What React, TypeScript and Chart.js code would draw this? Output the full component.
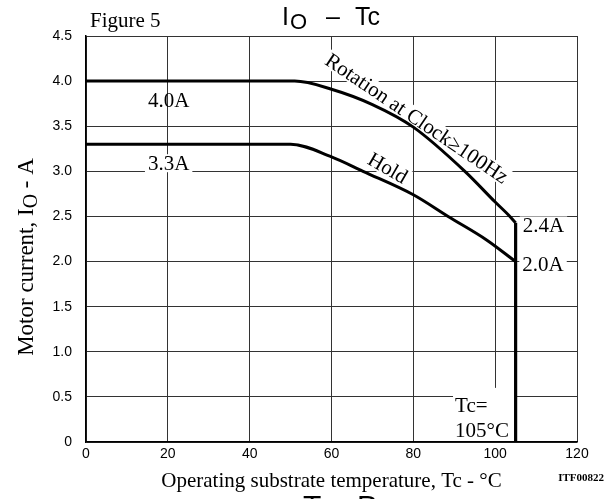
import React, { useEffect, useRef } from "react";
import { Chart, registerables } from "chart.js";

Chart.register(...registerables);

// Temperature (°C) / current (A)
const rotationTemp = [0, 51, 60, 70, 80, 92.6, 100, 103.6, 105];
const rotationCurrent = [4.0, 4.0, 3.91, 3.74, 3.49, 3.0, 2.66, 2.5, 2.43];
const holdTemp = [0, 50, 60, 67.7, 80, 88.5, 97.9, 105];
const holdCurrent = [3.3, 3.3, 3.16, 3.0, 2.74, 2.5, 2.24, 2.0];
const limitTemp = [105, 105];
const limitCurrent = [2.43, 0];

const xTickValues = [0, 20, 40, 60, 80, 100, 120];
const yTickValues = [0, 0.5, 1.0, 1.5, 2.0, 2.5, 3.0, 3.5, 4.0, 4.5];

const curveLabels = [
  { text: "4.0A", x: 20.2, y: 3.79, angle: 0, box: false },
  { text: "3.3A", x: 20.2, y: 3.09, angle: 0, box: true },
  { text: "2.4A", x: 111.8, y: 2.4, angle: 0, box: true },
  { text: "2.0A", x: 111.7, y: 1.97, angle: 0, box: true },
  { text: "Hold", x: 73.8, y: 3.04, angle: 30, box: true },
  { text: "Rotation at Clock≥100Hz", x: 80.9, y: 3.59, angle: 34, box: true },
];

const SERIF = "'Liberation Serif', 'Times New Roman', serif";
const SANS = "'Liberation Sans', Arial, sans-serif";

const pts = (xs: number[], ys: number[]) => xs.map((x, i) => ({ x, y: ys[i] }));

const annotPlugin = {
  id: "annot",
  beforeDatasetsDraw(chart: any) {
    const ctx = chart.ctx as CanvasRenderingContext2D;
    const xs = chart.scales.x;
    const ys = chart.scales.y;
    ctx.save();
    ctx.font = `21px ${SERIF}`;
    ctx.fillStyle = "#fff";
    for (const l of curveLabels) {
      if (!l.box) continue;
      const w = ctx.measureText(l.text).width;
      const px = xs.getPixelForValue(l.x);
      const py = ys.getPixelForValue(l.y);
      ctx.save();
      ctx.translate(px, py);
      ctx.rotate((l.angle * Math.PI) / 180);
      ctx.fillRect(-w / 2 - 3, -9, w + 6, 18);
      ctx.restore();
    }
    // Tc= 105°C box
    const bx = xs.getPixelForValue(89.7);
    const bxr = xs.getPixelForValue(105);
    const by = ys.getPixelForValue(0.6);
    const byb = ys.getPixelForValue(0);
    ctx.fillRect(bx, by, bxr - bx, byb - by - 1);
    ctx.restore();
  },
  afterDatasetsDraw(chart: any) {
    const ctx = chart.ctx as CanvasRenderingContext2D;
    const xs = chart.scales.x;
    const ys = chart.scales.y;
    ctx.save();
    ctx.fillStyle = "#000";
    ctx.font = `21px ${SERIF}`;
    ctx.textAlign = "center";
    ctx.textBaseline = "alphabetic";
    for (const l of curveLabels) {
      const px = xs.getPixelForValue(l.x);
      const py = ys.getPixelForValue(l.y);
      ctx.save();
      ctx.translate(px, py);
      ctx.rotate((l.angle * Math.PI) / 180);
      ctx.fillText(l.text, 0, 7);
      ctx.restore();
    }
    ctx.textAlign = "left";
    const tx = xs.getPixelForValue(90.2);
    ctx.fillText("Tc=", tx, ys.getPixelForValue(0.415) + 7);
    ctx.fillText("105°C", tx, ys.getPixelForValue(0.133) + 7);
    ctx.restore();
  },
  afterDraw(chart: any) {
    const ctx = chart.ctx as CanvasRenderingContext2D;
    const area = chart.chartArea;
    ctx.save();
    ctx.fillStyle = "#000";
    ctx.textBaseline = "alphabetic";
    // Figure label
    ctx.textAlign = "left";
    ctx.font = `21px ${SERIF}`;
    ctx.fillText("Figure 5", 90, 27);
    // Title IO – Tc
    ctx.font = `25px ${SANS}`;
    ctx.fillText("I", 282, 25);
    ctx.font = `22px ${SANS}`;
    ctx.fillText("O", 290, 29);
    ctx.font = `25px ${SANS}`;
    ctx.fillText("–", 326, 25);
    ctx.fillText("Tc", 355, 25);
    // X axis title
    ctx.textAlign = "center";
    ctx.font = `21px ${SERIF}`;
    ctx.fillText("Operating substrate temperature, Tc - °C", (area.left + area.right) / 2, 487);
    // Y axis title
    ctx.save();
    ctx.translate(33, 257);
    ctx.rotate(-Math.PI / 2);
    ctx.textAlign = "left";
    const p1 = "Motor current, I";
    const p2 = "O";
    const p3 = " - A";
    ctx.font = `23px ${SERIF}`;
    const w1 = ctx.measureText(p1).width;
    const w3 = ctx.measureText(p3).width;
    ctx.font = `20px ${SERIF}`;
    const w2 = ctx.measureText(p2).width;
    const total = w1 + w2 + w3;
    let cx = -total / 2;
    ctx.font = `23px ${SERIF}`;
    ctx.fillText(p1, cx, 0);
    cx += w1;
    ctx.font = `20px ${SERIF}`;
    ctx.fillText(p2, cx, 4);
    cx += w2;
    ctx.font = `23px ${SERIF}`;
    ctx.fillText(p3, cx, 0);
    ctx.restore();
    // Figure code
    ctx.textAlign = "right";
    ctx.font = `bold 11px ${SERIF}`;
    ctx.fillText("ITF00822", 604, 481);
    // cut-off next title at the bottom edge
    ctx.textAlign = "left";
    ctx.font = `30px ${SANS}`;
    ctx.fillText("T", 303, 516);
    ctx.fillText("P", 357, 516);
    ctx.restore();
  },
};

export default function App() {
  const ref = useRef<HTMLCanvasElement | null>(null);
  useEffect(() => {
    if (!ref.current) return;
    const lineStyle = {
      borderColor: "#000",
      backgroundColor: "#000",
      borderWidth: 3,
      pointRadius: 0,
      showLine: true,
      fill: false,
    };
    const chart = new Chart(ref.current, {
      type: "scatter",
      data: {
        datasets: [
          { ...lineStyle, label: "Rotation", data: pts(rotationTemp, rotationCurrent), cubicInterpolationMode: "monotone" },
          { ...lineStyle, label: "Hold", data: pts(holdTemp, holdCurrent), cubicInterpolationMode: "monotone" },
          { ...lineStyle, label: "Limit", data: pts(limitTemp, limitCurrent), borderWidth: 3.2 },
        ] as any,
      },
      options: {
        animation: false,
        responsive: false,
        layout: { padding: { top: 36, right: 28, left: 0, bottom: 0 } },
        plugins: {
          legend: { display: false },
          tooltip: { enabled: false },
          title: { display: false },
        },
        scales: {
          x: {
            type: "linear",
            min: 0,
            max: 120,
            afterBuildTicks: (s: any) => {
              s.ticks = xTickValues.map((v) => ({ value: v }));
            },
            afterFit: (s: any) => {
              s.height = 57;
            },
            grid: { color: "#333", lineWidth: 1, drawTicks: false },
            border: { color: "#000", width: 1.5 },
            ticks: {
              padding: 4,
              color: "#000",
              maxRotation: 0,
              autoSkip: false,
              font: { family: SANS, size: 14 },
              callback: (v: any) => String(v),
            },
          },
          y: {
            type: "linear",
            min: 0,
            max: 4.5,
            afterBuildTicks: (s: any) => {
              s.ticks = yTickValues.map((v) => ({ value: v }));
            },
            afterFit: (s: any) => {
              s.width = 86;
            },
            grid: { color: "#333", lineWidth: 1, drawTicks: false },
            border: { color: "#000", width: 1.5 },
            ticks: {
              padding: 14,
              color: "#000",
              autoSkip: false,
              font: { family: SANS, size: 14 },
              callback: (v: any) => (Number(v) === 0 ? "0" : Number(v).toFixed(1)),
            },
          },
        },
      },
      plugins: [annotPlugin],
    } as any);
    return () => chart.destroy();
  }, []);
  return (
    <div style={{ position: "fixed", left: 0, top: 0, width: 605, height: 499, background: "#fff" }}>
      <canvas ref={ref} width={605} height={499} style={{ width: 605, height: 499, display: "block" }} />
    </div>
  );
}
